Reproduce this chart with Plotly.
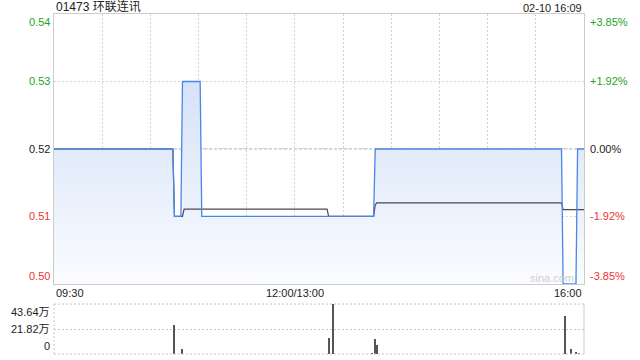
import plotly.graph_objects as go

# ---------------- data ----------------
title_text = "01473 环联连讯"
stamp_text = "02-10 16:09"
watermark = "sina.com"
prev_close = 0.52

price_times = ["09:30", "10:44", "10:45", "10:49", "10:50", "11:01", "11:02",
               "13:49", "13:50", "15:46", "15:47", "15:55", "15:56", "16:00"]
price_vals = [0.52, 0.52, 0.51, 0.51, 0.53, 0.53, 0.51,
              0.51, 0.52, 0.52, 0.50, 0.50, 0.52, 0.52]

avg_times = ["09:30", "10:44", "10:45", "10:50", "10:51", "13:20", "13:21",
             "13:49", "13:50", "13:51", "15:46", "15:47", "16:00"]
avg_vals = [0.52, 0.52, 0.51, 0.51, 0.5111, 0.5111, 0.51,
            0.51, 0.5117, 0.5120, 0.5120, 0.5110, 0.5110]

vol_times = ["10:45", "10:50", "13:21", "13:24", "13:48", "13:50", "13:51",
             "15:48", "15:52", "15:55", "15:57"]
vol_vals = [25.2, 4.3, 14.1, 43.64, 0.8, 13.3, 8.1, 33.0, 4.6, 1.2, 0.6]  # 万

price_ticks = [0.54, 0.53, 0.52, 0.51, 0.50]
price_tick_text = ["0.54", "0.53", "0.52", "0.51", "0.50"]
pct_tick_text = ["+3.85%", "+1.92%", "0.00%", "-1.92%", "-3.85%"]
vol_ticks = [43.64, 21.82, 0]
vol_tick_text = ["43.64万", "21.82万", "0"]
time_tick_pos = ["09:30", "12:00", "16:00"]
time_tick_text = ["09:30", "12:00/13:00", "16:00"]

# ---------------- helpers ----------------
def to_idx(t):
    h, m = map(int, t.split(":"))
    mins = h * 60 + m
    if mins <= 12 * 60:
        return mins - (9 * 60 + 30)
    return 150 + mins - 13 * 60

px = [to_idx(t) for t in price_times]
ax_ = [to_idx(t) for t in avg_times]
vx = [to_idx(t) for t in vol_times]
x_end = to_idx("16:00")

GREEN = "#22a622"
RED = "#f03232"
DARK = "#222222"
FONT = "Liberation Sans, Arial, Noto Sans CJK SC, sans-serif"

def col(v):
    if v > prev_close + 1e-9:
        return GREEN
    if v < prev_close - 1e-9:
        return RED
    return DARK

fig = go.Figure()

# baseline for fill
fig.add_trace(go.Scatter(x=[0, x_end], y=[price_ticks[-1], price_ticks[-1]],
                         mode="lines", line=dict(width=0), hoverinfo="skip",
                         showlegend=False, xaxis="x", yaxis="y"))
# price fill (gradient)
fig.add_trace(go.Scatter(x=px, y=price_vals, mode="lines",
                         line=dict(width=0),
                         fill="tonexty",
                         fillgradient=dict(type="vertical",
                                           colorscale=[[0, "rgba(250,252,255,1)"],
                                                       [1, "rgba(214,226,248,1)"]],
                                           start=price_ticks[-1], stop=max(price_vals)),
                         hoverinfo="skip", showlegend=False, xaxis="x", yaxis="y"))
# average line
fig.add_trace(go.Scatter(x=ax_, y=avg_vals, mode="lines",
                         line=dict(color="#4a4a4a", width=1.2),
                         showlegend=False, xaxis="x", yaxis="y"))
# price line on top
fig.add_trace(go.Scatter(x=px, y=price_vals, mode="lines",
                         line=dict(color="#4a86e8", width=1.3),
                         showlegend=False, xaxis="x", yaxis="y"))
# volume
fig.add_trace(go.Bar(x=vx, y=vol_vals, width=0.7,
                     marker=dict(color="#555555", line=dict(width=0)),
                     showlegend=False, xaxis="x2", yaxis="y2"))

grid_c = "#d4d4d4"
fig.update_layout(
    width=640, height=360,
    margin=dict(l=54, r=56, t=14, b=6),
    paper_bgcolor="white", plot_bgcolor="white",
    font=dict(family=FONT, size=11, color=DARK),
    bargap=0,
    xaxis=dict(domain=[0, 1], range=[0, x_end], anchor="y",
               tick0=0, dtick=30, showgrid=True, gridcolor=grid_c,
               griddash="2px,2px", gridwidth=1, showticklabels=False,
               ticks="", zeroline=False, showline=True, mirror=True,
               linecolor="#cccccc", linewidth=1),
    yaxis=dict(domain=[0.206, 1], range=[price_ticks[-1], price_ticks[0]],
               tickvals=price_ticks, showgrid=True, gridcolor=grid_c,
               griddash="2px,2px", showticklabels=False, ticks="",
               zeroline=False, showline=True, mirror=True,
               linecolor="#cccccc", linewidth=1),
    xaxis2=dict(domain=[0, 1], range=[0, x_end], anchor="y2", matches="x",
                showgrid=False, showticklabels=False, ticks="", zeroline=False,
                showline=False),
    yaxis2=dict(domain=[0, 0.147], range=[0, vol_ticks[0]], tickvals=vol_ticks,
                showgrid=True, gridcolor="#c8c8c8", griddash="2px,2px",
                showticklabels=False, ticks="", zeroline=False, showline=False),
)

shapes = [
    # previous close line
    dict(type="line", xref="x domain", yref="y", x0=0, x1=1,
         y0=prev_close, y1=prev_close, layer="below",
         line=dict(color="#b0b0b0", width=1, dash="3px,2px")),
    # volume panel borders
    dict(type="line", xref="x2 domain", yref="y2 domain", x0=0, x1=0, y0=0, y1=1,
         line=dict(color="#c8c8c8", width=1, dash="2px,2px")),
    dict(type="line", xref="x2 domain", yref="y2 domain", x0=1, x1=1, y0=0, y1=1,
         line=dict(color="#cccccc", width=1)),
    dict(type="line", xref="x2 domain", yref="y2 domain", x0=0, x1=1, y0=1, y1=1,
         line=dict(color="#c8c8c8", width=1, dash="2px,2px")),
    dict(type="line", xref="x2 domain", yref="y2 domain", x0=0, x1=1, y0=0, y1=0,
         line=dict(color="#c8c8c8", width=1, dash="2px,2px")),
]
fig.update_layout(shapes=shapes)

ann = []
n = len(price_ticks)
for i, (v, lt, rt) in enumerate(zip(price_ticks, price_tick_text, pct_tick_text)):
    ya = "top" if i == 0 else ("bottom" if i == n - 1 else "middle")
    c = col(v)
    ann.append(dict(xref="paper", yref="y", x=0, y=v, text=lt, showarrow=False,
                    xanchor="right", yanchor=ya, xshift=-2,
                    font=dict(size=11, color=c, family=FONT)))
    ann.append(dict(xref="paper", yref="y", x=1, y=v, text=rt, showarrow=False,
                    xanchor="left", yanchor=ya, xshift=4,
                    font=dict(size=11, color=c, family=FONT)))
m = len(vol_ticks)
for i, (v, t) in enumerate(zip(vol_ticks, vol_tick_text)):
    ya = "top" if i == 0 else ("bottom" if i == m - 1 else "middle")
    ann.append(dict(xref="paper", yref="y2", x=0, y=v, text=t, showarrow=False,
                    xanchor="right", yanchor=ya, xshift=-2,
                    font=dict(size=11, color=DARK, family=FONT)))
anchors = ["left", "center", "right"]
for pos, t, xa in zip(time_tick_pos, time_tick_text, anchors):
    ann.append(dict(xref="x", yref="y", x=to_idx(pos), y=price_ticks[-1], text=t,
                    showarrow=False, xanchor=xa, yanchor="top", yshift=-1,
                    font=dict(size=11, color=DARK, family=FONT)))
ann.append(dict(xref="paper", yref="paper", x=0, y=1, text=title_text,
                showarrow=False, xanchor="left", yanchor="bottom", yshift=-2,
                font=dict(size=12, color=DARK, family=FONT)))
ann.append(dict(xref="paper", yref="paper", x=1, y=1, text=stamp_text,
                showarrow=False, xanchor="right", yanchor="bottom", yshift=-2,
                font=dict(size=11, color=DARK, family=FONT)))
ann.append(dict(xref="x domain", yref="y domain", x=1, y=0, text=watermark,
                showarrow=False, xanchor="right", yanchor="bottom", xshift=-8,
                yshift=-2, font=dict(size=11, color="#cfcfcf", family=FONT)))
fig.update_layout(annotations=ann)

fig.write_html("out.html")
